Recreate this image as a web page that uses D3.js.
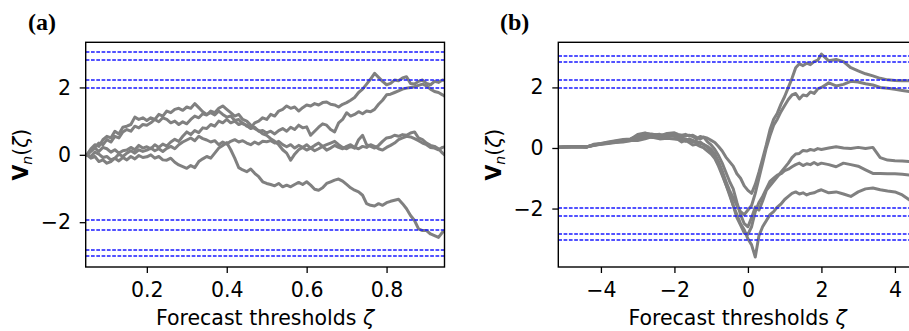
<!DOCTYPE html>
<html><head><meta charset="utf-8">
<script src="https://cdn.jsdelivr.net/npm/d3@7"></script>
<style>body{margin:0;background:#fff} svg{display:block;font-family:"DejaVu Sans",sans-serif}</style>
</head><body><svg id="c" width="909" height="331"></svg>
<script>
// ---------- data ----------
const zetaA = [0.05,0.06,0.07,0.08,0.09,0.10,0.11,0.12,0.13,0.14,
0.15,0.16,0.17,0.18,0.19,0.20,0.21,0.22,0.23,0.24,
0.25,0.26,0.27,0.28,0.29,0.30,0.31,0.32,0.33,0.34,
0.35,0.36,0.37,0.38,0.39,0.40,0.41,0.42,0.43,0.44,
0.45,0.46,0.47,0.48,0.49,0.50,0.51,0.52,0.53,0.54,
0.55,0.56,0.57,0.58,0.59,0.60,0.61,0.62,0.63,0.64,
0.65,0.66,0.67,0.68,0.69,0.70,0.71,0.72,0.73,0.74,
0.75,0.76,0.77,0.78,0.79,0.80,0.81,0.82,0.83,0.84,
0.85,0.86,0.87,0.88,0.89,0.90,0.91,0.92,0.93,0.94,0.95];
const a1 = [0,0.12,0.2,0.1,0.22,0.18,0.08,0.15,0.05,0.12,
0.14,0.22,0.15,0.28,0.2,0.24,0.18,0.3,0.22,0.32,
0.26,0.38,0.46,0.4,0.55,0.68,0.6,0.72,0.66,0.8,
0.78,0.9,0.85,1.0,0.95,1.05,0.95,1.0,0.9,0.95,
0.85,0.8,0.95,1.0,1.1,1.05,1.2,1.15,1.3,1.35,
1.45,1.38,1.42,1.3,1.4,1.48,1.45,1.52,1.48,1.55,
1.57,1.5,1.48,1.42,1.5,1.55,1.62,1.7,1.85,1.95,
2.1,2.25,2.42,2.3,2.18,2.08,2.12,2.22,2.2,2.28,
2.32,2.12,2.1,2.18,2.22,2.12,2.08,2.18,2.15,2.22,2.2];
const a2 = [0,0.18,0.3,0.25,0.45,0.55,0.5,0.7,0.62,0.82,
0.85,0.9,1.12,1.05,1.1,1.02,1.1,1.05,1.2,1.15,
1.3,1.25,1.35,1.38,1.32,1.42,1.38,1.52,1.4,1.28,
1.2,1.25,1.18,1.3,1.2,1.12,1.15,1.02,1.05,0.92,
0.88,0.78,0.82,0.7,0.72,0.65,0.7,0.62,0.72,0.78,
0.7,0.82,0.75,0.88,0.8,0.83,0.58,0.7,0.82,0.92,
0.88,0.75,0.68,0.95,1.05,1.25,1.15,1.2,1.28,1.22,
1.3,1.28,1.35,1.5,1.62,1.78,1.8,1.85,1.9,1.95,
1.98,2.0,2.02,2.06,2.1,2.05,1.95,1.88,1.85,1.78,1.7];
const a3 = [0,0.1,0.22,0.35,0.3,0.45,0.38,0.55,0.5,0.68,
0.75,0.7,0.85,0.8,0.9,0.88,0.95,1.05,0.98,1.1,
1.05,0.95,1.0,0.9,0.98,0.92,1.05,1.15,1.1,1.22,
1.18,1.3,1.25,1.38,1.45,1.35,1.25,1.15,1.2,1.05,
1.0,0.88,0.78,0.72,0.62,0.58,0.48,0.4,0.3,0.15,
0.05,-0.16,0.02,0.15,0.22,0.3,0.2,0.28,0.35,0.25,
0.3,0.35,0.4,0.3,0.22,0.18,0.25,0.2,0.45,0.58,
0.3,0.25,0.2,0.28,0.4,0.5,0.52,0.58,0.55,0.6,
0.58,0.65,0.68,0.5,0.45,0.35,0.28,0.25,0.18,0.05,-0.05];
const a4 = [0,-0.05,0.08,0.02,-0.08,-0.05,-0.15,-0.1,0.02,-0.05,
0.05,0.12,0.05,0.15,0.1,0.14,0.2,0.12,0.18,0.1,
0.19,0.25,0.18,0.3,0.38,0.44,0.5,0.42,0.55,0.48,
0.44,0.38,0.42,0.3,0.38,0.32,0.4,0.45,0.38,0.42,
0.35,0.3,0.38,0.32,0.4,0.39,0.42,0.35,0.4,0.3,
0.24,0.3,0.2,0.28,0.22,0.14,0.2,0.12,0.18,0.25,
0.14,0.2,0.28,0.22,0.18,0.25,0.3,0.22,0.18,0.25,
0.22,0.3,0.25,0.18,0.14,0.22,0.28,0.35,0.45,0.5,
0.55,0.53,0.48,0.42,0.35,0.3,0.22,0.2,0.15,0.22,0.25];
const a5 = [0,-0.1,-0.05,-0.2,-0.15,-0.25,-0.2,-0.1,-0.18,-0.08,
-0.15,-0.05,-0.12,-0.02,-0.08,-0.06,0.0,-0.1,-0.05,-0.15,
-0.16,-0.1,-0.22,-0.3,-0.35,-0.4,-0.32,-0.38,-0.2,-0.12,
-0.05,-0.1,0.05,0.2,0.28,0.36,0.15,-0.1,-0.38,-0.45,
-0.5,-0.42,-0.55,-0.65,-0.8,-0.85,-0.88,-0.92,-0.85,-0.95,
-0.9,-0.95,-0.88,-0.82,-0.88,-0.8,-0.9,-1.02,-1.05,-0.98,
-0.85,-0.8,-0.75,-0.72,-0.78,-0.88,-0.98,-1.05,-1.1,-1.2,
-1.45,-1.5,-1.52,-1.45,-1.5,-1.42,-1.38,-1.35,-1.32,-1.45,
-1.6,-1.8,-1.95,-2.2,-2.25,-2.25,-2.35,-2.4,-2.45,-2.3,-2.22];

const zetaB = [-5.2,-5.0,-4.8,-4.6,-4.4,-4.2,-4.0,-3.8,-3.6,-3.4,-3.2,-3.0,-2.8,-2.6,-2.4,-2.2,
-2.0,-1.9,-1.8,-1.7,-1.6,-1.5,-1.4,-1.3,-1.2,-1.1,
-1.0,-0.9,-0.8,-0.7,-0.6,-0.5,-0.4,-0.3,-0.2,-0.1,
0.0,0.1,0.2,0.3,0.4,0.5,0.6,0.7,0.8,0.9,
1.0,1.1,1.2,1.3,1.4,1.5,1.6,1.7,1.8,1.9,
2.0,2.2,2.4,2.6,2.8,3.0,3.2,3.4,3.6,3.8,
4.0,4.2,4.4,4.6,4.8,5.0,5.2];
const b1 = [0.02,0.03,0.04,0.05,0.03,0.1,0.14,0.18,0.22,0.25,0.27,0.35,0.42,0.45,0.4,0.48,
0.5,0.45,0.42,0.45,0.4,0.42,0.35,0.3,0.36,0.32,
0.25,0.18,0.05,-0.1,-0.3,-0.45,-0.6,-0.85,-1.0,-1.25,
-1.4,-1.5,-1.2,-0.8,-0.35,0.1,0.6,0.95,1.15,1.45,
1.7,2.0,2.3,2.65,2.78,2.72,2.8,2.75,2.85,2.9,
3.1,2.88,2.92,2.85,2.65,2.55,2.45,2.38,2.3,2.25,
2.23,2.22,2.22,2.2,2.18,2.15,2.12];
const b2 = [0.02,0.03,0.04,0.05,0.03,0.12,0.15,0.2,0.24,0.28,0.3,0.4,0.48,0.45,0.42,0.38,
0.42,0.35,0.3,0.22,0.3,0.25,0.18,0.2,0.1,0.05,
-0.05,-0.2,-0.45,-0.75,-1.1,-1.4,-1.65,-1.9,-2.1,-2.2,
-2.05,-1.9,-1.5,-1.0,-0.5,0.0,0.4,0.75,0.95,1.2,
1.4,1.6,1.75,1.8,1.62,1.75,1.72,1.85,1.8,1.95,
2.0,2.15,2.05,2.1,2.2,2.18,2.12,2.08,2.0,1.97,
1.94,1.9,1.86,1.83,1.8,1.78,1.75];
const b3 = [0.02,0.03,0.03,0.04,0.03,0.1,0.13,0.16,0.2,0.22,0.28,0.45,0.5,0.42,0.45,0.4,
0.45,0.4,0.35,0.4,0.42,0.38,0.3,0.38,0.35,0.2,
0.1,-0.05,-0.25,-0.5,-0.8,-1.1,-1.35,-1.8,-2.2,-2.5,
-2.6,-2.3,-1.95,-2.05,-1.75,-1.4,-1.25,-1.1,-0.95,-0.8,
-0.65,-0.5,-0.32,-0.2,-0.18,-0.08,-0.1,-0.05,-0.08,-0.02,
-0.05,0.0,0.04,0.0,-0.02,0.02,-0.02,0.02,-0.32,-0.4,
-0.42,-0.43,-0.45,-0.45,-0.46,-0.48,-0.5];
const b4 = [0.02,0.03,0.03,0.04,0.03,0.08,0.12,0.15,0.18,0.2,0.24,0.3,0.38,0.35,0.3,0.32,
0.3,0.28,0.2,0.25,0.18,0.1,0.12,0.05,0.0,-0.1,
-0.2,-0.35,-0.6,-0.9,-1.2,-1.5,-1.9,-2.3,-2.55,-2.8,
-2.85,-2.6,-2.1,-1.8,-1.6,-1.35,-1.1,-1.0,-0.9,-0.85,
-0.75,-0.7,-0.62,-0.55,-0.5,-0.58,-0.52,-0.55,-0.48,-0.55,
-0.5,-0.55,-0.62,-0.5,-0.55,-0.6,-0.72,-0.84,-0.84,-0.85,
-0.85,-0.87,-0.89,-0.9,-0.92,-0.93,-0.95];
const b5 = [0.02,0.03,0.04,0.04,0.03,0.09,0.13,0.17,0.2,0.23,0.25,0.25,0.3,0.38,0.35,0.42,
0.38,0.32,0.25,0.3,0.25,0.2,0.22,0.15,0.12,0.02,
-0.1,-0.28,-0.5,-0.85,-1.2,-1.55,-1.9,-2.2,-2.5,-2.7,
-3.0,-3.2,-3.6,-2.9,-2.6,-2.4,-2.2,-2.1,-1.95,-1.85,
-1.7,-1.6,-1.5,-1.45,-1.52,-1.48,-1.55,-1.5,-1.48,-1.42,
-1.38,-1.48,-1.45,-1.52,-1.6,-1.45,-1.35,-1.32,-1.38,-1.42,
-1.45,-1.55,-1.72,-1.8,-1.85,-1.9,-1.95];

const critLevels = [1.96, 2.24, 2.81, 3.03, -1.96, -2.24, -2.81, -3.03];
const ticksXA = [0.2, 0.4, 0.6, 0.8];
const ticksXB = [-4, -2, 0, 2, 4];
const ticksY = [-2, 0, 2];
const panelLabels = ["(a)", "(b)"];
const xTitle = "Forecast thresholds ";

// ---------- drawing ----------
const svg = d3.select("#c");
const FS = 20.5;

function panel(p) {
  const x = d3.scaleLinear().domain(p.xd).range([p.l, p.r]);
  const y = d3.scaleLinear().domain(p.yd).range([p.b, p.t]);
  const id = "clip" + p.id;
  svg.append("clipPath").attr("id", id).append("rect")
    .attr("x", p.l).attr("y", p.t).attr("width", p.r - p.l).attr("height", p.b - p.t);
  const g = svg.append("g");
  const plot = g.append("g").attr("clip-path", `url(#${id})`);
  const line = d3.line().x(d => x(d[0])).y(d => y(d[1]));
  p.series.forEach(s => {
    plot.append("path").datum(p.xs.map((v, i) => [v, s[i]]))
      .attr("d", line).attr("fill", "none").attr("stroke", "#808080")
      .attr("stroke-width", 3).attr("stroke-linejoin", "round").attr("stroke-linecap", "round");
  });
  critLevels.forEach(c => {
    const yy = 2 * Math.round(y(c) / 2);
    plot.append("line").attr("x1", p.l).attr("x2", p.r).attr("y1", yy).attr("y2", yy)
      .attr("stroke", "#1a1aff").attr("stroke-width", 1.4).attr("stroke-dasharray", "3.7,1.6");
  });
  // axes
  const ax = g.append("g").attr("transform", `translate(0,${p.b})`)
    .call(d3.axisBottom(x).tickValues(p.xt).tickFormat(p.xf).tickSize(6).tickPadding(9.5).tickSizeOuter(0));
  const ay = g.append("g").attr("transform", `translate(${p.l},0)`)
    .call(d3.axisLeft(y).tickValues(ticksY).tickFormat(d3.format("d")).tickSize(6).tickPadding(8.7).tickSizeOuter(0));
  [ax, ay].forEach(a => {
    a.select(".domain").remove();
    a.selectAll("line").attr("stroke", "#000").attr("stroke-width", 1.3);
    a.selectAll("text").attr("fill", "#000").style("font-size", FS + "px").style("font-family", "DejaVu Sans");
  });
  g.append("rect").attr("x", p.l).attr("y", p.t).attr("width", p.r - p.l).attr("height", p.b - p.t)
    .attr("fill", "none").attr("stroke", "#000").attr("stroke-width", 1.4);
  // x title
  const xt = g.append("text").attr("x", p.xc).attr("y", 325).attr("text-anchor", "middle")
    .style("font-size", FS + "px").style("font-family", "DejaVu Sans");
  xt.append("tspan").text(xTitle);
  xt.append("tspan").style("font-style", "italic").text("ζ");
  // y title
  const yt = g.append("text").attr("transform", `translate(${p.yl},${(p.t + p.b) / 2}) rotate(-90)`)
    .attr("text-anchor", "middle").style("font-size", FS + "px").style("font-family", "DejaVu Sans");
  yt.append("tspan").style("font-weight", "bold").text("V");
  yt.append("tspan").style("font-style", "italic").style("font-size", "14px").attr("dy", 4).text("n");
  yt.append("tspan").attr("dy", -4).text("(");
  yt.append("tspan").style("font-style", "italic").text("ζ");
  yt.append("tspan").text(")");
  // panel label
  g.append("text").attr("x", p.tx).attr("y", 30).text(p.label)
    .style("font-family", "Liberation Serif").style("font-weight", "bold").style("font-size", "24px");
}

panel({id: "a", l: 85.7, r: 444.5, t: 42.3, b: 267, xd: [0.047, 0.945], yd: [-3.33, 3.34],
  xs: zetaA, series: [a1, a2, a3, a4, a5], xt: ticksXA, xf: d3.format(".1f"),
  xc: 265, yl: 28, tx: 28, label: panelLabels[0]});
panel({id: "b", l: 558.3, r: 917.7, t: 42.3, b: 267, xd: [-5.16, 4.62], yd: [-3.93, 3.49],
  xs: zetaB, series: [b1, b2, b3, b4, b5], xt: ticksXB, xf: d3.format("d"),
  xc: 737.5, yl: 501, tx: 500, label: panelLabels[1]});
</script></body></html>
